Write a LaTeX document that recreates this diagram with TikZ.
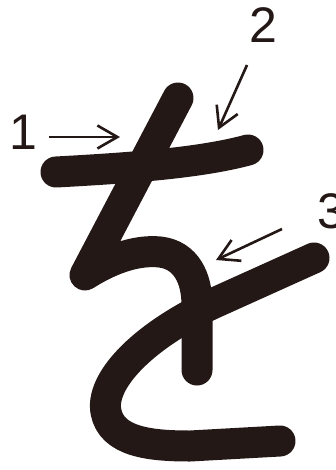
\documentclass[tikz,border=0pt]{standalone}
\usepackage{fontspec}
\newfontfamily\numfont{Liberation Sans}
\usetikzlibrary{arrows.meta}
\definecolor{ink}{HTML}{231815}
\tikzset{
  kana/.style={draw=ink, line width=31pt, line cap=round, line join=round},
  guide/.style={draw=ink, line width=2.6pt, -{Straight Barb[length=20pt,width=23pt,line width=2.6pt]}},
  num/.style={font=\numfont\fontsize{50}{50}\selectfont, text=ink, inner sep=0pt}
}
\begin{document}
\begin{tikzpicture}[x=1pt,y=-1pt]
\useasboundingbox (0,0) rectangle (336,470);
% stroke 1
\draw[kana] (56,172) .. controls (130,168) and (200,163) .. (248,150);
% stroke 2
\draw[kana] (178,98) -- (85,275) .. controls (115,256) and (140,250) .. (160,252)
  .. controls (186,255) and (197,278) .. (197,305) -- (197,370);
% stroke 3
\draw[kana] (314,258) -- (212,304) .. controls (140,338) and (100,382) .. (106,412)
  .. controls (112,442) and (150,446) .. (190,446) -- (280,441);
% numbers
\node[num] (n1) at (23,132) {1};
\node[num] (n2) at (263,25) {2};
\node[num] (n3) at (331,211) {3};
% guide arrows
\coordinate (a1s) at (49,137); \coordinate (a1e) at (120,137);
\coordinate (a2s) at (247,65); \coordinate (a2e) at (218,130);
\coordinate (a3s) at (282,229); \coordinate (a3e) at (216,260);
\draw[guide] (a1s) -- (a1e);
\draw[guide] (a2s) -- (a2e);
\draw[guide] (a3s) -- (a3e);
\end{tikzpicture}
\end{document}
